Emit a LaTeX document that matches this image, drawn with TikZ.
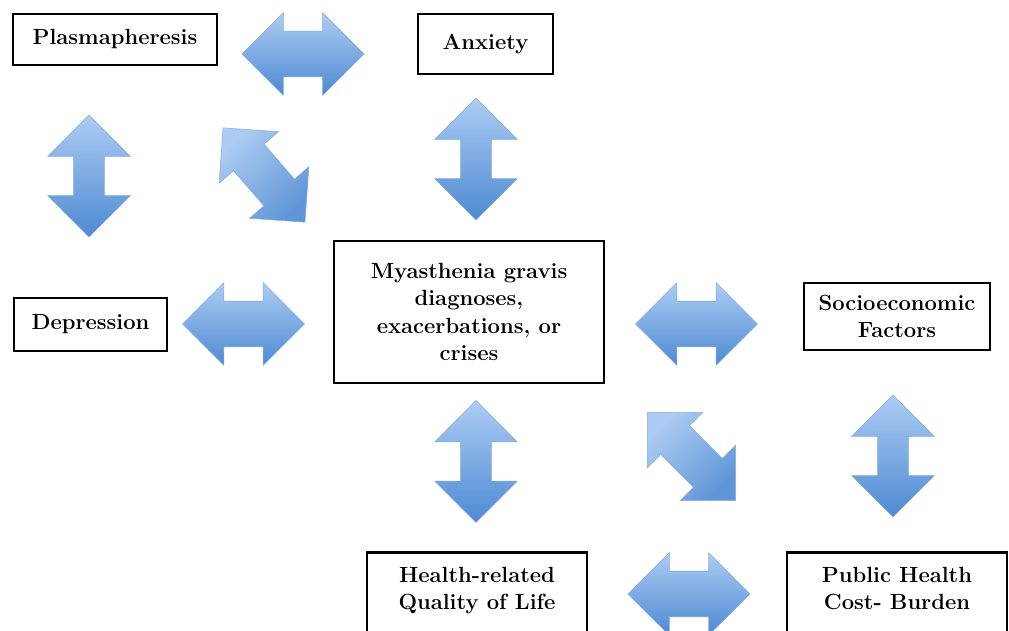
\documentclass[tikz,border=0pt]{standalone}
\usetikzlibrary{shapes.arrows}

\definecolor{arrlight}{RGB}{172,204,243}
\definecolor{arrdark}{RGB}{78,138,210}

\tikzset{
  box/.style={draw, line width=1.5pt, align=center, inner sep=0pt,
    font=\fontsize{12.5}{15.6}\selectfont\bfseries},
  dblarrow/.style={double arrow, draw=arrdark!70, line width=0.3pt,
    inner xsep=0pt, minimum height=2.44cm, top color=arrlight, bottom color=arrdark},
  arrow_h/.style={dblarrow, inner ysep=0.45cm, double arrow head extend=0.37cm},
  arrow_v/.style={dblarrow, rotate=90, inner ysep=0.3cm, double arrow head extend=0.52cm},
  arrow_d/.style={dblarrow, minimum height=2.5cm, inner ysep=0.4cm, double arrow head extend=0.38cm,
    top color=arrlight, bottom color=arrdark!90, shading angle=45}
}

\begin{document}
\begin{tikzpicture}[x=0.02cm,y=-0.02cm]

\clip (0,0) rectangle (1009,631) ;
\fill[white] (0,0) rectangle (1009,631) ;

% boxes
\node[box, minimum width=4.08cm, minimum height=1.02cm] (box_plasma) at (115,39.5) {Plasmapheresis} ;
\node[box, minimum width=2.7cm, minimum height=1.2cm] (box_anx) at (485.5,44) {Anxiety} ;
\node[box, minimum width=3.06cm, minimum height=1.06cm] (box_dep) at (90.5,324.5) {Depression} ;
\node[box, minimum width=5.4cm, minimum height=2.84cm] (box_mg) at (469,312)
  {Myasthenia gravis\\diagnoses,\\exacerbations, or\\crises} ;
\node[box, minimum width=3.72cm, minimum height=1.34cm] (box_socio) at (897,316.5)
  {Socioeconomic\\Factors} ;
\node[box, anchor=north, minimum width=4.4cm, inner ysep=0.3cm, text depth=2cm] (box_hrqol) at (477,551)
  {Health-related\\Quality of Life} ;
\node[box, anchor=north, minimum width=4.4cm, inner ysep=0.3cm, text depth=2cm] (box_cost) at (897,551)
  {Public Health\\Cost- Burden} ;

% arrows
\node[arrow_h] (arr_plasma_anx) at (303,54) {} ;
\node[arrow_v] (arr_plasma_dep) at (89,176) {} ;
\node[arrow_d, rotate=-49] (arr_plasma_mg) at (264,175) {} ;
\node[arrow_v] (arr_anx_mg) at (476,159) {} ;
\node[arrow_h] (arr_dep_mg) at (243.5,324) {} ;
\node[arrow_h] (arr_mg_socio) at (696.5,324) {} ;
\node[arrow_v] (arr_mg_hrqol) at (476,461.5) {} ;
\node[arrow_d, rotate=-45] (arr_mg_cost) at (691.5,456.5) {} ;
\node[arrow_v] (arr_socio_cost) at (893,456) {} ;
\node[arrow_h] (arr_hrqol_cost) at (689,594) {} ;

\end{tikzpicture}
\end{document}
